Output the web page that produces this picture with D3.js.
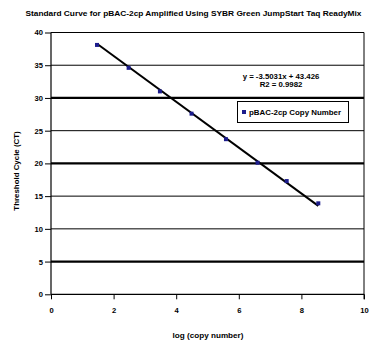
<!DOCTYPE html>
<html><head><meta charset="utf-8">
<script src="https://cdn.jsdelivr.net/npm/d3@7"></script>
<style>
html,body{margin:0;padding:0;background:#fff;}
text{font-family:"Liberation Sans",Arial,sans-serif;font-weight:bold;fill:#000;}
</style></head>
<body><svg id="c" width="372" height="344"></svg>
<script>
const title = "Standard Curve for pBAC-2cp Amplified Using SYBR Green JumpStart Taq ReadyMix";
const xLabel = "log (copy number)";
const yLabel = "Threshold Cycle (CT)";
const seriesName = "pBAC-2cp Copy Number";
const logCopy = [1.47, 2.48, 3.48, 4.49, 5.59, 6.60, 7.53, 8.54];
const ctValues = [38.1, 34.6, 31.0, 27.6, 23.7, 20.1, 17.3, 13.9];
const fitSlope = -3.5031;
const fitIntercept = 43.426;
const eqLines = ["y = -3.5031x + 43.426", "R2 = 0.9982"];
const xTicks = [0, 2, 4, 6, 8, 10];
const yTicks = [0, 5, 10, 15, 20, 25, 30, 35, 40];
const thickLines = [30, 20, 5];

const svg = d3.select("#c");
const L = 51, R = 364, T = 32.5, B = 294.3;
const x = d3.scaleLinear().domain([0, 10]).range([L, R]);
const y = d3.scaleLinear().domain([0, 40]).range([B, T]);

svg.append("text").attr("x", 193.5).attr("y", 16).attr("text-anchor", "middle")
  .attr("textLength", 336).attr("lengthAdjust", "spacingAndGlyphs")
  .style("font-size", "7.8px").text(title);

// gridlines
svg.append("g").selectAll("line").data(yTicks.filter(d => d > 0)).join("line")
  .attr("x1", L).attr("x2", R).attr("y1", d => y(d)).attr("y2", d => y(d))
  .attr("stroke", "#000").attr("stroke-width", d => thickLines.includes(d) ? 2.2 : 1);

// right border
svg.append("line").attr("x1", R).attr("x2", R).attr("y1", T).attr("y2", B + 5)
  .attr("stroke", "#000").attr("stroke-width", 1);

const yAxis = svg.append("g").attr("transform", `translate(${L},0)`)
  .call(d3.axisLeft(y).tickValues(yTicks).tickSize(6).tickPadding(2).tickFormat(d3.format("d")));
const xAxis = svg.append("g").attr("transform", `translate(0,${B})`)
  .call(d3.axisBottom(x).tickValues(xTicks).tickSize(5).tickPadding(8).tickFormat(d3.format("d")));
[yAxis, xAxis].forEach(a => {
  a.select(".domain").attr("stroke", "#000").attr("stroke-width", 1.2);
  a.selectAll(".tick line").attr("stroke", "#000");
  a.selectAll("text").style("font-size", "7.6px").style("font-family", '"Liberation Sans",Arial,sans-serif').style("font-weight", "bold");
});
yAxis.select(".domain").attr("d", `M0,${T}V${B}`);
xAxis.select(".domain").attr("d", `M${L},0H${R}`);

// trendline
const x0 = d3.min(logCopy), x1 = d3.max(logCopy);
svg.append("line")
  .attr("x1", x(x0)).attr("y1", y(fitSlope * x0 + fitIntercept))
  .attr("x2", x(x1)).attr("y2", y(fitSlope * x1 + fitIntercept))
  .attr("stroke", "#000").attr("stroke-width", 2);

// points
svg.append("g").selectAll("rect").data(logCopy.map((d, i) => [d, ctValues[i]])).join("rect")
  .attr("x", d => x(d[0]) - 2).attr("y", d => y(d[1]) - 2)
  .attr("width", 4).attr("height", 4).attr("fill", "#1c1c8c");

// equation
svg.append("g").selectAll("text").data(eqLines).join("text")
  .attr("x", 281).attr("y", (d, i) => 79 + i * 8).attr("text-anchor", "middle")
  .style("font-size", "7.8px").text(d => d);

// legend
svg.append("rect").attr("x", 237.5).attr("y", 101.5).attr("width", 111).attr("height", 21)
  .attr("fill", "#fff").attr("stroke", "#000").attr("stroke-width", 1);
svg.append("rect").attr("x", 242).attr("y", 110).attr("width", 4).attr("height", 4).attr("fill", "#1c1c8c");
svg.append("text").attr("x", 249).attr("y", 115).style("font-size", "7.9px").text(seriesName);

// axis labels
svg.append("text").attr("x", 208).attr("y", 338).attr("text-anchor", "middle")
  .attr("textLength", 71).attr("lengthAdjust", "spacingAndGlyphs")
  .style("font-size", "7.8px").text(xLabel);
svg.append("text").attr("transform", "translate(19,171) rotate(-90)").attr("text-anchor", "middle")
  .style("font-size", "7.9px").text(yLabel);
</script></body></html>
